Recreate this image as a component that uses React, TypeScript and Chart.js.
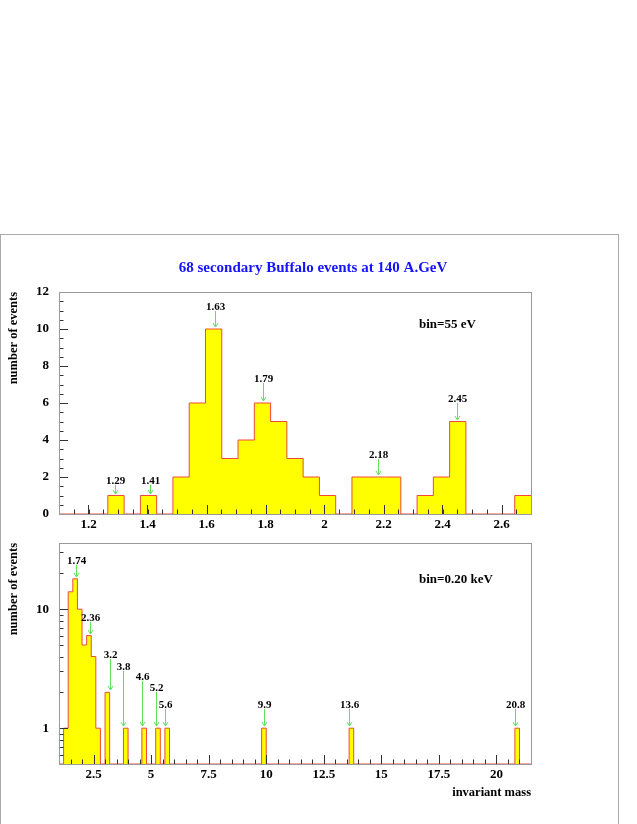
import React, { useEffect, useRef } from "react";
import { Chart, registerables } from "chart.js";

Chart.register(...registerables);

// ---------- texts ----------
const TITLE = "68 secondary Buffalo events at 140 A.GeV";
const Y_TITLE = "number of events";
const X_TITLE = "invariant mass";

// ---------- top panel (fine binning) ----------
const topBinStart = 1.1;
const topBinEnd = 2.7;
const topCounts = [0, 0, 0, 1, 0, 1, 0, 2, 6, 10, 3, 4, 6, 5, 3, 2, 1, 0, 2, 2, 2, 0, 1, 2, 5, 0, 0, 0, 1];
const topXTicks = [1.2, 1.4, 1.6, 1.8, 2.0, 2.2, 2.4, 2.6];
const topYTicks = [0, 2, 4, 6, 8, 10, 12];
const topYMax = 12;
const topNote = "bin=55 eV";
const topMarkLabels = ["1.29", "1.41", "1.63", "1.79", "2.18", "2.45"];
const topMarkX = [1.29, 1.41, 1.63, 1.79, 2.18, 2.45];
const topMarkStart = [1.58, 1.58, 11.0, 7.07, 2.98, 5.99];
const topMarkTip = [1, 1, 10, 6, 2, 5];

// ---------- bottom panel (coarse binning, log scale) ----------
const bottomBinStart = 1.0;
const bottomBinWidth = 0.2;
const bottomXMax = 21.5;
const bottomBinLow = [1.2, 1.4, 1.6, 1.8, 2.0, 2.2, 2.4, 2.6, 3.0, 3.8, 4.6, 5.2, 5.6, 9.8, 13.6, 20.8];
const bottomBinCount = [1, 14, 18, 10, 5, 6, 4, 1, 2, 1, 1, 1, 1, 1, 1, 1];
const bottomXTicks = [2.5, 5, 7.5, 10, 12.5, 15, 17.5, 20];
const bottomYTicks = [1, 10];
const bottomYMin = 0.5;
const bottomYMax = 36;
const bottomNote = "bin=0.20 keV";
const bottomMarkLabels = ["1.74", "2.36", "3.2", "3.8", "4.6", "5.2", "5.6", "9.9", "13.6", "20.8"];
const bottomMarkX = [1.74, 2.36, 3.2, 3.8, 4.6, 5.2, 5.6, 9.9, 13.6, 20.8];
const bottomMarkStart = [23.6, 7.73, 3.79, 3.01, 2.48, 2.01, 1.45, 1.45, 1.45, 1.45];
const bottomMarkTip = [18, 6, 2, 1, 1, 1, 1, 1, 1, 1];

// ---------- style ----------
const SERIF = "'Liberation Serif', 'Times New Roman', Times, serif";
const FILL = "#ffff00";
const EDGE = "#ee4a3a";
const GREEN = "#5fe05f";
const TICK = "#333333";
const FRAME = "#999999";

function stepPoints(start: number, width: number, counts: number[]) {
  const pts = counts.map((c, i) => ({ x: start + i * width, y: c }));
  pts.push({ x: start + counts.length * width, y: counts[counts.length - 1] });
  return pts;
}

function bottomCountsFull() {
  const n = Math.ceil((bottomXMax - bottomBinStart) / bottomBinWidth - 1e-9);
  const counts = new Array(n).fill(0);
  bottomBinLow.forEach((lo, i) => {
    const k = Math.round((lo - bottomBinStart) / bottomBinWidth);
    counts[k] += bottomBinCount[i];
  });
  return counts;
}

function range(a: number, b: number, s: number) {
  const out: number[] = [];
  const n = Math.round((b - a) / s);
  for (let i = 0; i <= n; i++) out.push(a + i * s);
  return out;
}

const panelPlugin = {
  id: "panel",
  afterDatasetsDraw(chart: any, _args: any, o: any) {
    const { ctx, chartArea: a } = chart;
    const xs = chart.scales.x;
    const ys = chart.scales.y;
    ctx.save();
    // inward ticks
    ctx.strokeStyle = TICK;
    ctx.lineWidth = 1;
    ctx.beginPath();
    const xt = (v: number, len: number) => {
      if (v < xs.min - 1e-9 || v > xs.max + 1e-9) return;
      const px = Math.round(xs.getPixelForValue(v)) + 0.5;
      ctx.moveTo(px, a.bottom);
      ctx.lineTo(px, a.bottom - len);
    };
    const yt = (v: number, len: number) => {
      if (v < ys.min - 1e-9 || v > ys.max + 1e-9) return;
      const py = Math.round(ys.getPixelForValue(v)) + 0.5;
      ctx.moveTo(a.left, py);
      ctx.lineTo(a.left + len, py);
    };
    o.xMinor.forEach((v: number) => xt(v, 4.5));
    o.xMajor.forEach((v: number) => xt(v, 9));
    o.yMinor.forEach((v: number) => yt(v, 4.5));
    o.yMajor.forEach((v: number) => yt(v, 9));
    ctx.stroke();
    // frame
    ctx.strokeStyle = FRAME;
    ctx.strokeRect(Math.round(a.left) + 0.5, Math.round(a.top) + 0.5, Math.round(a.right - a.left), Math.round(a.bottom - a.top));
    // arrows + labels
    ctx.font = `bold 11px ${SERIF}`;
    ctx.textAlign = "center";
    ctx.textBaseline = "alphabetic";
    o.markLabels.forEach((lab: string, i: number) => {
      const px = Math.round(xs.getPixelForValue(o.markX[i])) + 0.5;
      const y0 = Math.round(ys.getPixelForValue(o.markStart[i]));
      const y1 = Math.round(ys.getPixelForValue(o.markTip[i])) - 2;
      ctx.strokeStyle = GREEN;
      ctx.beginPath();
      ctx.moveTo(px, y0);
      ctx.lineTo(px, y1);
      ctx.moveTo(px - 2.5, y1 - 4);
      ctx.lineTo(px, y1);
      ctx.lineTo(px + 2.5, y1 - 4);
      ctx.stroke();
      ctx.fillStyle = "#000";
      ctx.fillText(lab, px, y0 - 1);
    });
    // note
    ctx.font = `bold 13px ${SERIF}`;
    ctx.textAlign = "left";
    ctx.textBaseline = "middle";
    ctx.fillStyle = "#000";
    ctx.fillText(o.note, a.left + o.noteDx, a.top + o.noteDy);
    // title
    if (o.title) {
      ctx.font = `bold 15px ${SERIF}`;
      ctx.textAlign = "center";
      ctx.fillStyle = "#1414ff";
      ctx.fillText(o.title, o.titleX, o.titleY);
    }
    ctx.restore();
  },
};

const fmt = (v: any) => String(Number(Number(v).toFixed(2)));

function makeConfig(p: any) {
  return {
    type: "line",
    data: {
      datasets: [
        {
          data: p.points,
          parsing: false,
          stepped: true,
          fill: "start",
          backgroundColor: FILL,
          borderColor: EDGE,
          borderWidth: 1,
          pointRadius: 0,
          tension: 0,
        },
      ],
    },
    options: {
      animation: false,
      responsive: false,
      maintainAspectRatio: false,
      events: [],
      layout: { padding: { left: 0, right: p.padRight, top: p.padTop, bottom: 0 } },
      plugins: {
        legend: { display: false },
        tooltip: { enabled: false },
        title: { display: false },
        panel: p.panel,
      },
      scales: {
        x: {
          type: "linear",
          min: p.xMin,
          max: p.xMax,
          grid: { display: false, drawTicks: false },
          border: { display: false },
          ticks: {
            font: { family: SERIF, size: 13, weight: "bold" },
            color: "#000",
            padding: p.xPad,
            maxRotation: 0,
            autoSkip: false,
            callback: fmt,
          },
          afterBuildTicks: (s: any) => {
            s.ticks = p.xTicks.map((v: number) => ({ value: v }));
          },
          afterFit: (s: any) => {
            s.height = p.xHeight;
            s.paddingLeft = 0;
            s.paddingRight = 0;
          },
          title: p.xTitle
            ? {
                display: true,
                text: p.xTitle,
                align: "end",
                color: "#000",
                font: { family: SERIF, size: 12.5, weight: "bold" },
                padding: { top: 0, bottom: p.xTitlePad },
              }
            : { display: false },
        },
        y: {
          type: p.yType,
          min: p.yMin,
          max: p.yMax,
          grid: { display: false, drawTicks: false },
          border: { display: false },
          ticks: {
            font: { family: SERIF, size: 13, weight: "bold" },
            color: "#000",
            padding: 10,
            autoSkip: false,
            callback: fmt,
          },
          afterBuildTicks: (s: any) => {
            s.ticks = p.yTicks.map((v: number) => ({ value: v }));
          },
          afterFit: (s: any) => {
            s.width = 59;
            s.paddingTop = 0;
            s.paddingBottom = 0;
          },
          title: {
            display: true,
            text: Y_TITLE,
            align: "end",
            color: "#000",
            font: { family: SERIF, size: 12.5, weight: "bold" },
            padding: { top: 6, bottom: 0 },
          },
        },
      },
    },
    plugins: [panelPlugin],
  };
}

export default function App() {
  const topRef = useRef<HTMLCanvasElement>(null);
  const botRef = useRef<HTMLCanvasElement>(null);

  useEffect(() => {
    const topWidth = (topBinEnd - topBinStart) / topCounts.length;
    const logMinor: number[] = [];
    [0.1, 1, 10].forEach((d) => {
      for (let m = 1; m <= 9; m++) logMinor.push(m * d);
    });
    const top = new Chart(
      topRef.current as HTMLCanvasElement,
      makeConfig({
        points: stepPoints(topBinStart, topWidth, topCounts),
        padRight: 106,
        padTop: 292,
        xMin: topBinStart,
        xMax: topBinEnd,
        xTicks: topXTicks,
        xPad: 3,
        xHeight: 26,
        xTitle: null,
        yType: "linear",
        yMin: 0,
        yMax: topYMax,
        yTicks: topYTicks,
        panel: {
          xMajor: topXTicks,
          xMinor: range(1.1, 2.7, 0.05),
          yMajor: topYTicks,
          yMinor: range(0, topYMax, 0.5),
          markLabels: topMarkLabels,
          markX: topMarkX,
          markStart: topMarkStart,
          markTip: topMarkTip,
          note: topNote,
          noteDx: 360,
          noteDy: 33,
          title: TITLE,
          titleX: 313,
          titleY: 268,
        },
      }) as any
    );
    const bottom = new Chart(
      botRef.current as HTMLCanvasElement,
      makeConfig({
        points: stepPoints(bottomBinStart, bottomBinWidth, bottomCountsFull()),
        padRight: 106,
        padTop: 13,
        xMin: bottomBinStart,
        xMax: bottomXMax,
        xTicks: bottomXTicks,
        xPad: 3,
        xHeight: 60,
        xTitle: X_TITLE,
        xTitlePad: 23.5,
        yType: "logarithmic",
        yMin: bottomYMin,
        yMax: bottomYMax,
        yTicks: bottomYTicks,
        panel: {
          xMajor: bottomXTicks,
          xMinor: range(1.0, 21.5, 0.5),
          yMajor: bottomYTicks,
          yMinor: logMinor,
          markLabels: bottomMarkLabels,
          markX: bottomMarkX,
          markStart: bottomMarkStart,
          markTip: bottomMarkTip,
          note: bottomNote,
          noteDx: 360,
          noteDy: 37,
          title: null,
        },
      }) as any
    );
    return () => {
      top.destroy();
      bottom.destroy();
    };
  }, []);

  return (
    <div style={{ position: "fixed", left: 0, top: 0, width: 637, height: 824, background: "#fff", overflow: "hidden" }}>
      <div
        style={{
          position: "absolute",
          left: 0,
          top: 234,
          width: 619,
          height: 600,
          border: "1px solid #aaaaaa",
          boxSizing: "border-box",
        }}
      />
      <canvas ref={topRef} width={637} height={540} style={{ position: "absolute", left: 0, top: 0 }} />
      <canvas ref={botRef} width={637} height={294} style={{ position: "absolute", left: 0, top: 530 }} />
    </div>
  );
}
